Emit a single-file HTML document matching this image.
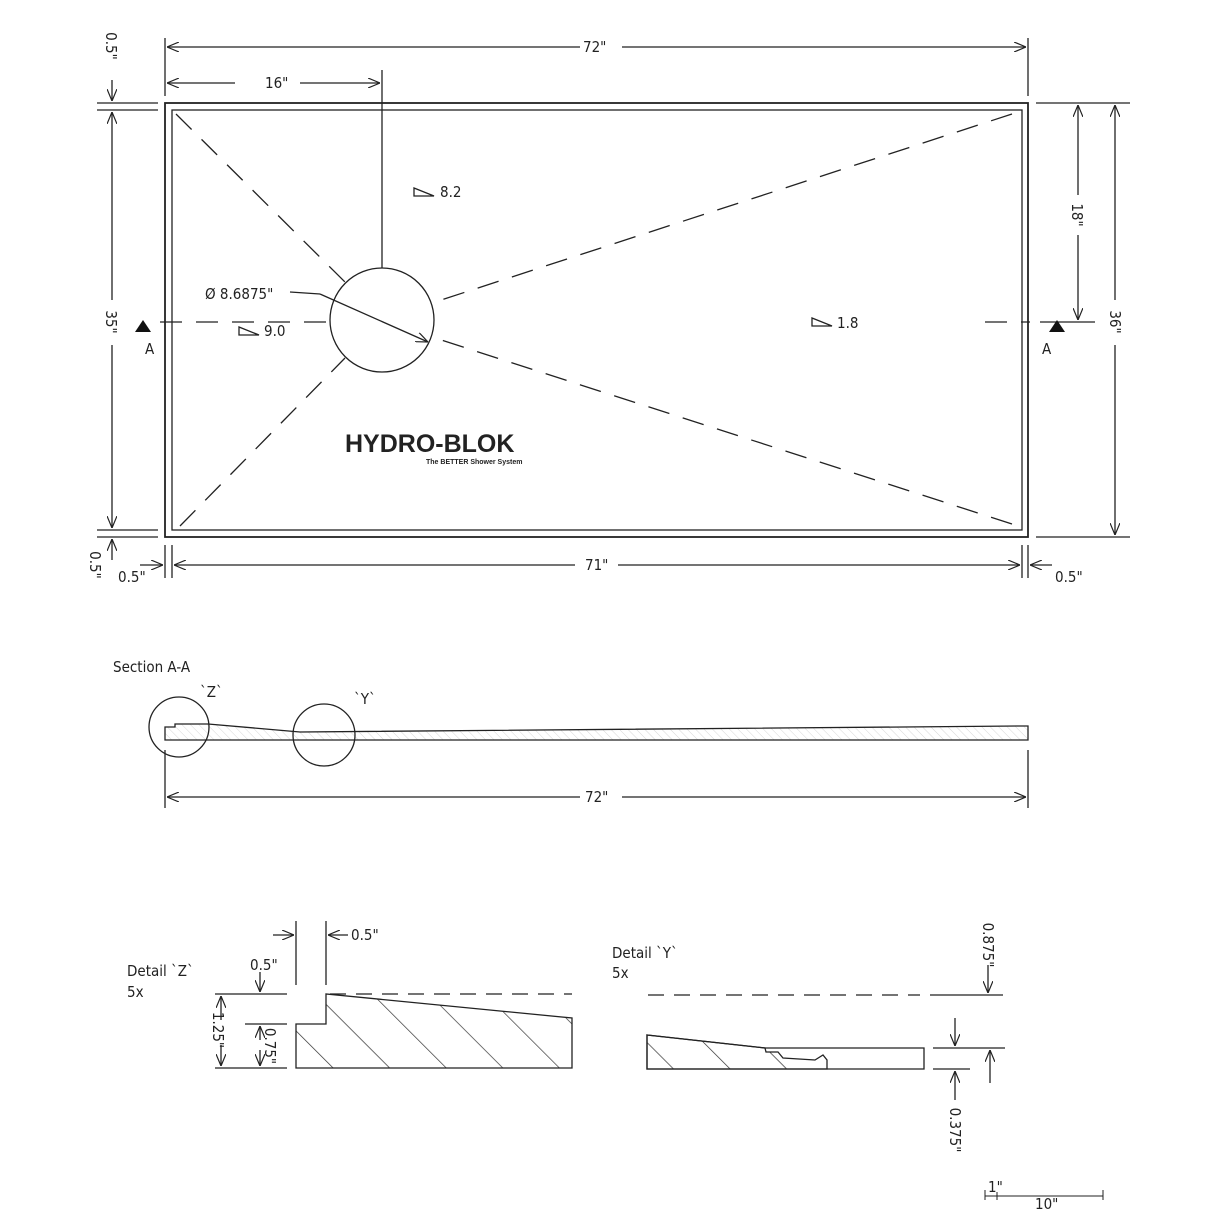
<!DOCTYPE html>
<html><head><style>
body{margin:0;background:#fff}
svg{display:block}
text{font-family:"DejaVu Sans Condensed","Liberation Sans",sans-serif;font-size:15px;fill:#222}
</style></head><body>
<svg width="1214" height="1214" viewBox="0 0 1214 1214" xmlns="http://www.w3.org/2000/svg">
<defs>
<marker id="a" viewBox="0 0 12 10" refX="12" refY="5" markerWidth="12" markerHeight="10" orient="auto-start-reverse" markerUnits="userSpaceOnUse"><path d="M0,0 L12,5 L0,10" fill="none" stroke="#222" stroke-width="1.2"/></marker>
<pattern id="h" width="40" height="40" patternUnits="userSpaceOnUse" patternTransform="rotate(-45)"><line x1="0" y1="0" x2="0" y2="40" stroke="#333" stroke-width="1.4"/></pattern>
<pattern id="h2" width="6" height="6" patternUnits="userSpaceOnUse" patternTransform="rotate(-45)"><line x1="0" y1="0" x2="0" y2="6" stroke="#bbb" stroke-width="0.6"/></pattern>
</defs>
<g stroke="#222" stroke-width="1.3" fill="none">
<rect x="165" y="103" width="863" height="434" stroke-width="1.8"/>
<rect x="172" y="110" width="850" height="420" stroke-width="1.3"/>
<circle cx="382" cy="320" r="52"/>
<g stroke-dasharray="22,14">
<line x1="176" y1="114" x2="345" y2="282"/>
<line x1="1012" y1="114" x2="435" y2="302"/>
<line x1="1012" y1="524" x2="435" y2="338"/>
<line x1="180" y1="526" x2="345" y2="358"/>
<line x1="160" y1="322" x2="330" y2="322"/>
<line x1="985" y1="322" x2="1030" y2="322"/>
</g>
<line x1="382" y1="70" x2="382" y2="268"/>
<line x1="290" y1="292" x2="320" y2="294"/>
<line x1="320" y1="294" x2="428" y2="342" marker-end="url(#a)"/>
<line x1="165" y1="38" x2="165" y2="96"/><line x1="1028" y1="38" x2="1028" y2="96"/>
<line x1="167" y1="47" x2="580" y2="47" marker-start="url(#a)"/><line x1="622" y1="47" x2="1026" y2="47" marker-end="url(#a)"/>
<line x1="167" y1="83" x2="235" y2="83" marker-start="url(#a)"/><line x1="300" y1="83" x2="380" y2="83" marker-end="url(#a)"/>
<line x1="97" y1="103" x2="158" y2="103"/><line x1="97" y1="110" x2="158" y2="110"/>
<line x1="97" y1="530" x2="158" y2="530"/><line x1="97" y1="537" x2="158" y2="537"/>
<line x1="112" y1="80" x2="112" y2="101" marker-end="url(#a)"/>
<line x1="112" y1="112" x2="112" y2="300" marker-start="url(#a)"/><line x1="112" y1="345" x2="112" y2="528" marker-end="url(#a)"/>
<line x1="112" y1="560" x2="112" y2="539" marker-end="url(#a)"/>
<line x1="1036" y1="103" x2="1130" y2="103"/><line x1="1036" y1="537" x2="1130" y2="537"/>
<line x1="1040" y1="322" x2="1095" y2="322"/>
<line x1="1078" y1="105" x2="1078" y2="195" marker-start="url(#a)"/><line x1="1078" y1="235" x2="1078" y2="320" marker-end="url(#a)"/>
<line x1="1115" y1="105" x2="1115" y2="300" marker-start="url(#a)"/><line x1="1115" y1="345" x2="1115" y2="535" marker-end="url(#a)"/>
<line x1="165" y1="545" x2="165" y2="578"/><line x1="172" y1="545" x2="172" y2="578"/>
<line x1="1022" y1="545" x2="1022" y2="578"/><line x1="1028" y1="545" x2="1028" y2="578"/>
<line x1="174" y1="565" x2="575" y2="565" marker-start="url(#a)"/><line x1="618" y1="565" x2="1020" y2="565" marker-end="url(#a)"/>
<line x1="140" y1="565" x2="163" y2="565" marker-end="url(#a)"/><line x1="1052" y1="565" x2="1030" y2="565" marker-end="url(#a)"/>
<path d="M414,196 L434,196 L414,188Z"/><path d="M239,335 L259,335 L239,327Z"/><path d="M812,326 L832,326 L812,318Z"/>
<path d="M165,727 L175,727 L175,724 L208,724 L300,732 L1020,726 L1028,726 L1028,740 L165,740Z" fill="url(#h2)"/>
<circle cx="179" cy="727" r="30"/><circle cx="324" cy="735" r="31"/>
<line x1="165" y1="750" x2="165" y2="808"/><line x1="1028" y1="750" x2="1028" y2="808"/>
<line x1="167" y1="797" x2="580" y2="797" marker-start="url(#a)"/><line x1="622" y1="797" x2="1026" y2="797" marker-end="url(#a)"/>
<line x1="296" y1="921" x2="296" y2="985"/><line x1="326" y1="921" x2="326" y2="985"/>
<line x1="273" y1="935" x2="294" y2="935" marker-end="url(#a)"/><line x1="348" y1="935" x2="328" y2="935" marker-end="url(#a)"/>
<line x1="215" y1="994" x2="287" y2="994"/><line x1="245" y1="1024" x2="287" y2="1024"/><line x1="215" y1="1068" x2="287" y2="1068"/>
<line x1="260" y1="972" x2="260" y2="992" marker-end="url(#a)"/>
<line x1="221" y1="1020" x2="221" y2="996" marker-end="url(#a)"/><line x1="221" y1="1045" x2="221" y2="1066" marker-end="url(#a)"/>
<line x1="260" y1="1040" x2="260" y2="1026" marker-end="url(#a)"/><line x1="260" y1="1050" x2="260" y2="1066" marker-end="url(#a)"/>
<path d="M296,1068 L296,1024 L326,1024 L326,994 L572,1018 L572,1068Z" fill="url(#h)"/>
<line x1="330" y1="994" x2="572" y2="994" stroke-dasharray="16,10"/>
<line x1="648" y1="995" x2="920" y2="995" stroke-dasharray="16,10"/>
<line x1="930" y1="995" x2="1003" y2="995"/>
<line x1="988" y1="965" x2="988" y2="993" marker-end="url(#a)"/>
<path d="M647,1035 L765,1048 L924,1048 L924,1069 L647,1069Z"/>
<path d="M647,1035 L765,1048 L766,1052 L778,1052 L783,1058 L815,1060 L823,1055 L827,1060 L827,1069 L647,1069Z" fill="url(#h)"/>
<line x1="933" y1="1048" x2="1005" y2="1048"/><line x1="933" y1="1069" x2="970" y2="1069"/>
<line x1="955" y1="1018" x2="955" y2="1046" marker-end="url(#a)"/><line x1="955" y1="1100" x2="955" y2="1071" marker-end="url(#a)"/>
<line x1="990" y1="1083" x2="990" y2="1050" marker-end="url(#a)"/>
<line x1="985" y1="1196" x2="1103" y2="1196" stroke-width="1"/>
<line x1="985" y1="1190" x2="985" y2="1200" stroke-width="1"/><line x1="997" y1="1192" x2="997" y2="1200" stroke-width="1"/><line x1="1103" y1="1190" x2="1103" y2="1200" stroke-width="1"/>
</g>
<path d="M143,320 L135,332 L151,332Z" fill="#111"/><path d="M1057,320 L1049,332 L1065,332Z" fill="#111"/>
<text x="583" y="52" font-size="14">72"</text>
<text x="265" y="88" font-size="14">16"</text>
<text x="440" y="197">8.2</text><text x="264" y="336">9.0</text><text x="837" y="328">1.8</text>
<text x="205" y="299">Ø 8.6875"</text>
<text x="145" y="354" font-size="14">A</text><text x="1042" y="354" font-size="14">A</text>
<text x="585" y="570" font-size="14">71"</text><text x="118" y="582" font-size="14">0.5"</text><text x="1055" y="582" font-size="14">0.5"</text>
<text transform="translate(106,46) rotate(90)" font-size="14" text-anchor="middle">0.5"</text>
<text transform="translate(106,322) rotate(90)" font-size="14" text-anchor="middle">35"</text>
<text transform="translate(90,565) rotate(90)" font-size="14" text-anchor="middle">0.5"</text>
<text transform="translate(1072,215) rotate(90)" font-size="14" text-anchor="middle">18"</text>
<text transform="translate(1110,322) rotate(90)" font-size="14" text-anchor="middle">36"</text>
<text x="345" y="452" style="font-family:'Liberation Sans',sans-serif;font-weight:bold;font-size:25px;fill:#222">HYDRO-BLOK</text>
<text x="426" y="464" style="font-family:'Liberation Sans',sans-serif;font-weight:bold;font-size:7px">The BETTER Shower System</text>
<text x="113" y="672">Section A-A</text><text x="200" y="697">`Z`</text><text x="354" y="704">`Y`</text>
<text x="585" y="802" font-size="14">72"</text>
<text x="127" y="976">Detail `Z`</text><text x="127" y="997">5x</text>
<text x="351" y="940" font-size="12">0.5"</text><text x="250" y="970" font-size="12">0.5"</text>
<text transform="translate(213,1030) rotate(90)" font-size="12" text-anchor="middle">1.25"</text>
<text transform="translate(265,1046) rotate(90)" font-size="10" text-anchor="middle">0.75"</text>
<text x="612" y="958">Detail `Y`</text><text x="612" y="978">5x</text>
<text transform="translate(983,945) rotate(90)" font-size="14" text-anchor="middle">0.875"</text>
<text transform="translate(950,1130) rotate(90)" font-size="14" text-anchor="middle">0.375"</text>
<text x="988" y="1192" font-size="11">1"</text><text x="1035" y="1209" font-size="11">10"</text>
</svg>
</body></html>
